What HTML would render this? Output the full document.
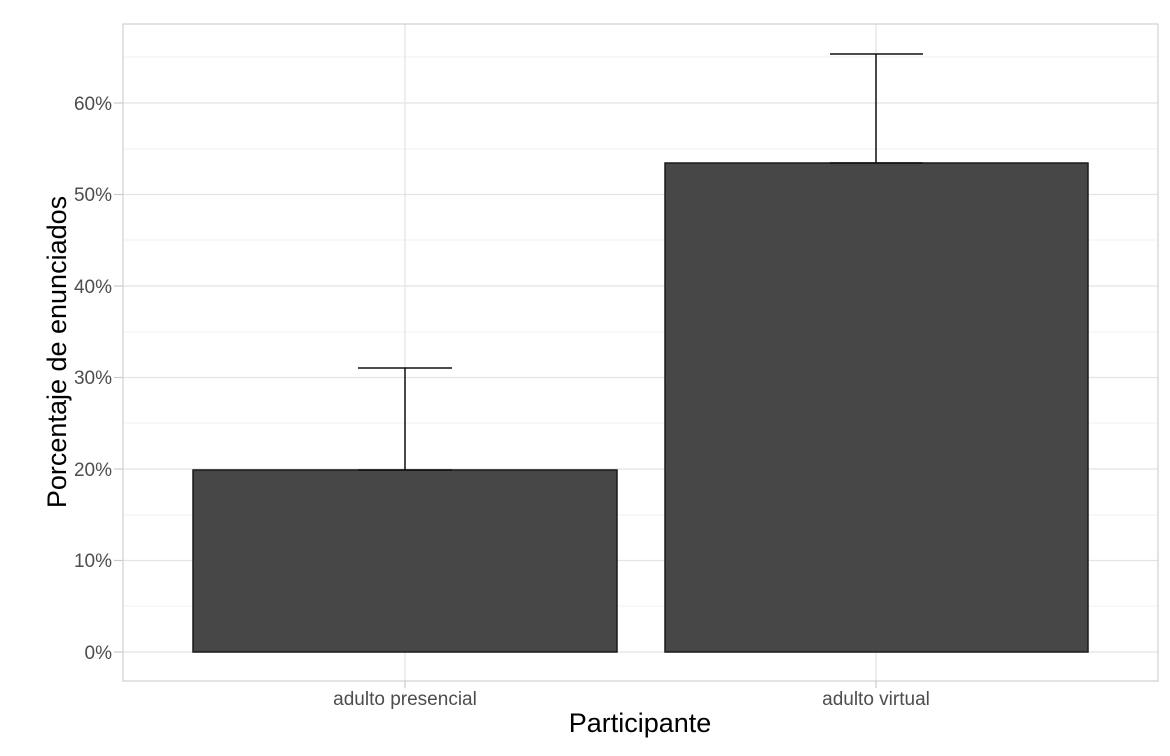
<!DOCTYPE html>
<html><head><meta charset="utf-8"><style>body{margin:0;background:#fff}</style></head><body>
<svg width="1170" height="751" xmlns="http://www.w3.org/2000/svg" font-family="Liberation Sans, sans-serif">
<rect width="1170" height="751" fill="#fff"/>
<g stroke="#f0f0f0" stroke-width="1">
<line x1="123" x2="1158" y1="606" y2="606"/><line x1="123" x2="1158" y1="515" y2="515"/>
<line x1="123" x2="1158" y1="423" y2="423"/><line x1="123" x2="1158" y1="332" y2="332"/>
<line x1="123" x2="1158" y1="240" y2="240"/><line x1="123" x2="1158" y1="149" y2="149"/>
<line x1="123" x2="1158" y1="57" y2="57"/>
</g>
<g stroke="#e4e4e4" stroke-width="1.3">
<line x1="123" x2="1158" y1="652" y2="652"/><line x1="123" x2="1158" y1="560.5" y2="560.5"/>
<line x1="123" x2="1158" y1="469" y2="469"/><line x1="123" x2="1158" y1="377.5" y2="377.5"/>
<line x1="123" x2="1158" y1="286" y2="286"/><line x1="123" x2="1158" y1="194.5" y2="194.5"/>
<line x1="123" x2="1158" y1="103" y2="103"/>
<line x1="405" x2="405" y1="24" y2="681"/><line x1="876" x2="876" y1="24" y2="681"/>
</g>
<rect x="193" y="470" width="424" height="182" fill="#474747" stroke="#1a1a1a" stroke-width="1.5"/>
<rect x="665" y="163" width="423" height="489" fill="#474747" stroke="#1a1a1a" stroke-width="1.5"/>
<g stroke="#111" stroke-width="1.5" fill="none">
<path d="M358 368H452M405 368V470M358 470H452"/>
<path d="M830 54H923M876 54V163M830 163H923"/>
</g>
<rect x="123" y="24" width="1035" height="657" fill="none" stroke="#d0d0d0" stroke-width="1.2"/>
<g stroke="#ccc" stroke-width="1.2">
<line x1="114" x2="123" y1="652" y2="652"/><line x1="114" x2="123" y1="560.5" y2="560.5"/>
<line x1="114" x2="123" y1="469" y2="469"/><line x1="114" x2="123" y1="377.5" y2="377.5"/>
<line x1="114" x2="123" y1="286" y2="286"/><line x1="114" x2="123" y1="194.5" y2="194.5"/>
<line x1="114" x2="123" y1="103" y2="103"/>
<line x1="405" x2="405" y1="681" y2="688"/><line x1="876" x2="876" y1="681" y2="688"/>
</g>
<g fill="#4d4d4d" font-size="19" text-anchor="end">
<text x="112" y="659">0%</text><text x="112" y="567">10%</text><text x="112" y="476">20%</text>
<text x="112" y="384">30%</text><text x="112" y="293">40%</text><text x="112" y="201">50%</text>
<text x="112" y="110">60%</text>
</g>
<g fill="#4d4d4d" font-size="19" text-anchor="middle">
<text x="405" y="705">adulto presencial</text><text x="876" y="705">adulto virtual</text>
</g>
<text x="640" y="732" font-size="27" text-anchor="middle" fill="#000">Participante</text>
<text transform="translate(66 352) rotate(-90)" font-size="27" text-anchor="middle" fill="#000">Porcentaje de enunciados</text>
</svg>
</body></html>
